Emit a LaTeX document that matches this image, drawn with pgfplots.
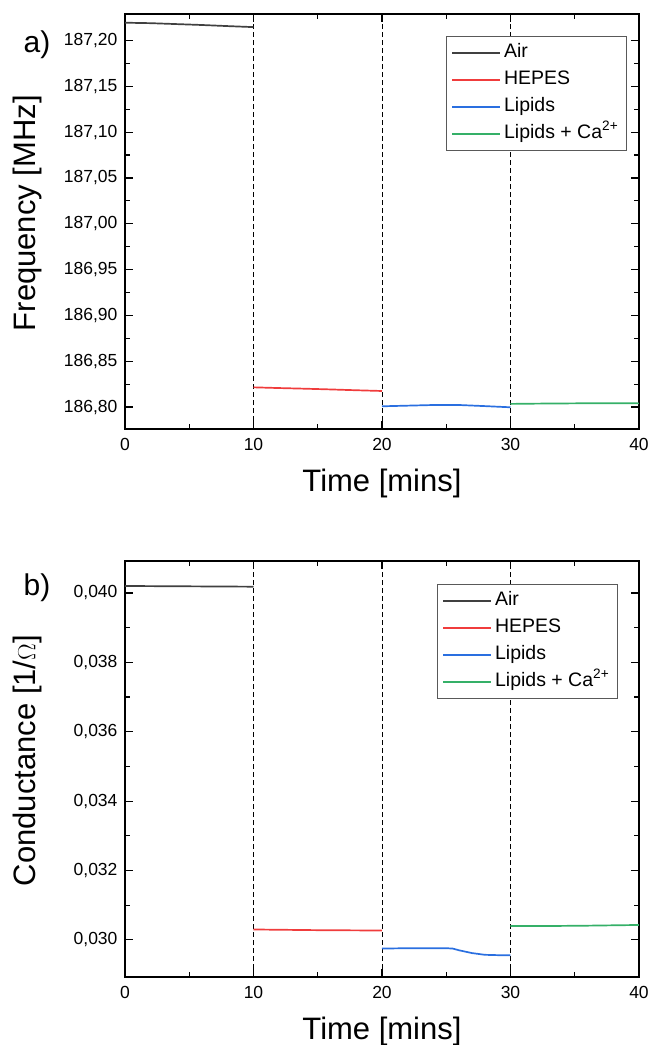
\documentclass[border=0pt]{standalone}
\usepackage{pgfplots}
\pgfplotsset{compat=1.18}
\usepackage{fontspec}
\setmainfont{Liberation Sans}
\definecolor{cair}{HTML}{404040}
\definecolor{chep}{HTML}{F03C3C}
\definecolor{cblu}{HTML}{2A6FE0}
\definecolor{cca}{HTML}{35B068}
\pgfplotsset{
  myaxis/.style={
    scale only axis, width=514pt, height=415pt,
    xmin=0, xmax=40, xtick={0,10,20,30,40}, minor x tick num=1,
    tick align=inside, major tick length=8pt, minor tick length=5pt,
    axis line style={line width=1.4pt}, every tick/.style={line width=1.2pt, black},
    tick label style={font=\fontsize{17.5}{20}\selectfont},
    /pgf/number format/assume math mode=true,
    scaled ticks=false,
    xlabel={Time [mins]},
    xlabel style={font=\fontsize{31}{34}\selectfont, at={(axis description cs:0.5,0)}, anchor=center, yshift=-54pt},
    ylabel style={font=\fontsize{31}{34}\selectfont, at={(axis description cs:-0.19,0.52)}, anchor=center},
    xticklabel style={yshift=-6pt},
    yticklabel style={xshift=-4pt},
    legend cell align=left,
    legend image code/.code={\draw[##1, line width=1.7pt] (0pt,0pt) -- (48pt,0pt);},
    legend style={draw=black!65, line width=0.8pt, font=\fontsize{19.5}{21}\selectfont, anchor=north west,
      nodes={text height=15pt, text depth=6pt, inner sep=3pt}, row sep=0pt, inner xsep=5pt, inner ysep=3pt},
    every axis plot/.append style={line width=1.7pt},
    vline/.style={black, dash pattern=on 5pt off 3pt, line width=0.9pt, forget plot},
  }
}
\begin{document}
\begin{tikzpicture}
\useasboundingbox (0,0) rectangle (651pt,-1045pt);
\begin{axis}[myaxis, at={(125pt,-429pt)}, anchor=south west,
  ymin=186.776, ymax=187.229,
  ytick={186.80,186.85,186.90,186.95,187.00,187.05,187.10,187.15,187.20}, minor y tick num=1,
  yticklabel style={/pgf/number format/.cd, fixed, fixed zerofill, precision=2, use comma, 1000 sep={}},
  ylabel={Frequency [MHz]},
  legend style={at={(axis description cs:0.6245,0.947)}},
]
\addplot[vline] coordinates {(10,186.776) (10,187.229)};
\addplot[vline] coordinates {(20,186.776) (20,187.229)};
\addplot[vline] coordinates {(30,186.776) (30,187.229)};
\addplot[cair] coordinates {(0,187.2195) (2,187.2190) (4,187.2180) (6,187.2170) (8,187.2158) (10,187.2147)};
\addplot[chep] coordinates {(10,186.8215) (12,186.8207) (14,186.8200) (16,186.8192) (18,186.8183) (20,186.8175)};
\addplot[cblu] coordinates {(20,186.8008) (22,186.8015) (24,186.8022) (26,186.8022) (28,186.8010) (30,186.7997)};
\addplot[cca] coordinates {(30,186.8034) (32,186.8037) (35,186.8040) (37,186.8042) (40,186.8040)};
\legend{Air, HEPES, Lipids, Lipids + Ca\textsuperscript{2+}}
\end{axis}
\node[font=\fontsize{30}{33}\selectfont] at (37pt,-45pt) {a)};
\begin{axis}[myaxis, at={(125pt,-977pt)}, anchor=south west, height=416pt,
  ymin=0.02893, ymax=0.04092,
  ytick={0.030,0.032,0.034,0.036,0.038,0.040}, minor y tick num=1,
  yticklabel style={/pgf/number format/.cd, fixed, fixed zerofill, precision=3, use comma, 1000 sep={}},
  ylabel={Conductance [1/$\Omega$]},
  legend style={at={(axis description cs:0.607,0.945)}},
]
\addplot[vline] coordinates {(10,0.02893) (10,0.04092)};
\addplot[vline] coordinates {(20,0.02893) (20,0.04092)};
\addplot[vline] coordinates {(30,0.02893) (30,0.04092)};
\addplot[cair] coordinates {(0,0.04020) (5,0.04019) (10,0.04018)};
\addplot[chep] coordinates {(10,0.03030) (15,0.03028) (20,0.03027)};
\addplot[cblu] coordinates {(20,0.02975) (22,0.02976) (25,0.02976) (25.5,0.02975) (26,0.02970) (27,0.02962) (28,0.02957) (29,0.02956) (30,0.02956)};
\addplot[cca] coordinates {(30,0.03040) (33,0.03040) (36,0.03041) (40,0.03043)};
\legend{Air, HEPES, Lipids, Lipids + Ca\textsuperscript{2+}}
\end{axis}
\node[font=\fontsize{30}{33}\selectfont] at (37pt,-588pt) {b)};
\end{tikzpicture}
\end{document}
